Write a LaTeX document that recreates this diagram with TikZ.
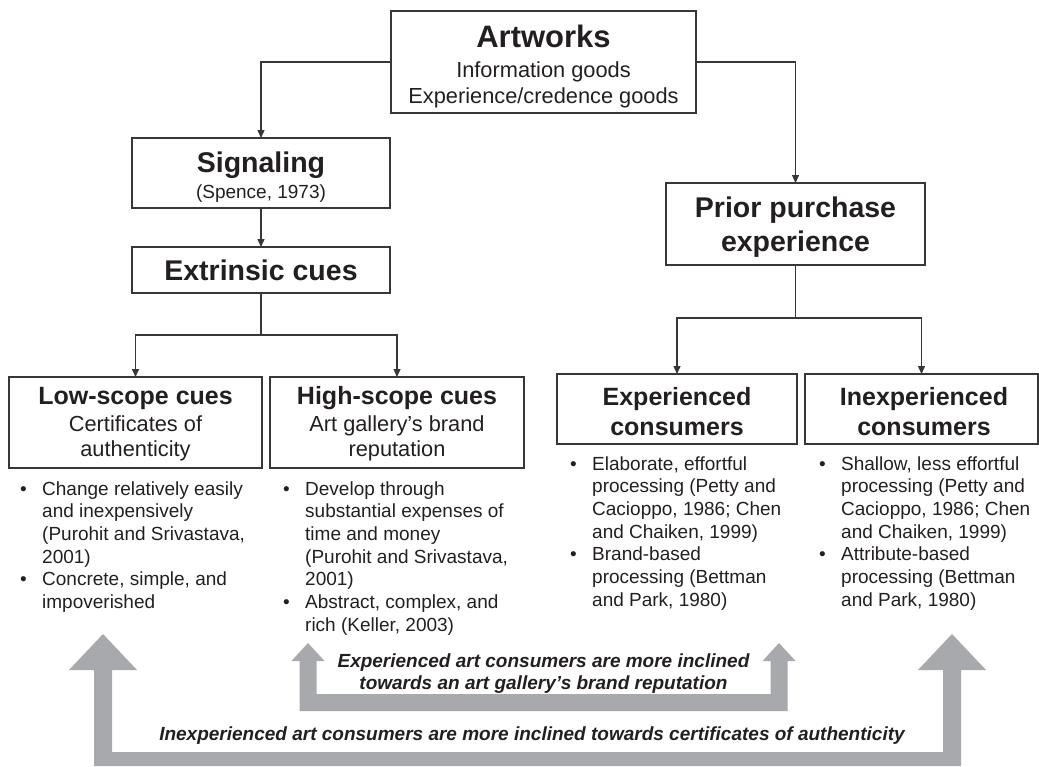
\documentclass[tikz,border=0pt]{standalone}
\usepackage{fontspec}
\setmainfont{Liberation Sans}
\usetikzlibrary{arrows.meta}
\definecolor{txt}{RGB}{35,31,32}
\definecolor{edge}{RGB}{55,55,55}
\definecolor{bigarrow}{RGB}{167,169,172}
\newcommand{\blt}{\makebox[22pt][l]{\textbullet}}
\newcommand{\bsp}{\hspace*{22pt}}
\begin{document}
\begin{tikzpicture}[x=1pt,y=-1pt,
  box/.style={draw=edge, line width=1.5pt, inner sep=0pt, outer sep=0pt},
  conn/.style={draw=edge, line width=1.4pt},
  arr/.style={conn, -{Triangle[width=7pt,length=8pt]}},
  bigttl/.style={anchor=base, text=txt, inner sep=0pt, font=\fontsize{31}{34}\selectfont\bfseries},
  ttl/.style={anchor=base, text=txt, inner sep=0pt, font=\fontsize{28.5}{32}\selectfont\bfseries},
  lttl/.style={anchor=base, text=txt, inner sep=0pt, font=\fontsize{25}{28}\selectfont\bfseries},
  sub/.style={anchor=base, text=txt, inner sep=0pt, font=\fontsize{21.8}{26}\selectfont},
  cite/.style={anchor=base, text=txt, inner sep=0pt, font=\fontsize{19}{22}\selectfont},
  blist/.style={anchor=base west, text=txt, inner sep=0pt, font=\fontsize{19}{22.7}\selectfont},
  note/.style={anchor=base, text=txt, inner sep=0pt, font=\fontsize{19}{22}\selectfont\bfseries\itshape},
  bigshape/.style={fill=bigarrow, draw=none}
]
\useasboundingbox (0,0) rectangle (1039,766);

% ---- big grey arrows ----
\fill[bigshape] (94,766) -- (94,670) -- (69,670) -- (103,634) -- (137,670) -- (112,670)
  -- (112,752) -- (943,752) -- (943,670) -- (918,670) -- (952,634) -- (986,670)
  -- (961,670) -- (961,766) -- cycle;
\fill[bigshape] (299.5,711) -- (299.5,661) -- (291.5,661) -- (308,643) -- (324.5,661)
  -- (316.5,661) -- (316.5,694) -- (770.5,694) -- (770.5,661) -- (762.5,661)
  -- (779,643) -- (795.5,661) -- (787.5,661) -- (787.5,711) -- cycle;

% ---- boxes ----
\node[box, minimum width=305, minimum height=102] (art) at (543.5,62) {};
\node[box, minimum width=258, minimum height=70] (sig) at (261,173) {};
\node[box, minimum width=258, minimum height=46] (ext) at (261,270) {};
\node[box, minimum width=259, minimum height=82] (prior) at (795.5,224) {};
\node[box, minimum width=253, minimum height=91] (low) at (135.5,422.5) {};
\node[box, minimum width=254, minimum height=91] (high) at (397,422.5) {};
\node[box, minimum width=240, minimum height=70] (exp) at (677,409) {};
\node[box, minimum width=233, minimum height=70] (inexp) at (921.5,409) {};

% ---- box texts ----
\node[bigttl] (artT) at (543.5,47) {Artworks};
\node[sub] (artS1) at (543.5,77) {Information goods};
\node[sub] (artS2) at (543.5,103) {Experience/credence goods};
\node[ttl] (sigT) at (261,172) {Signaling};
\node[cite] (sigS) at (261,198) {(Spence, 1973)};
\node[ttl] (extT) at (261,280) {Extrinsic cues};
\node[ttl] (priorT1) at (795.5,217) {Prior purchase};
\node[ttl] (priorT2) at (795.5,251) {experience};
\node[lttl] (lowT) at (135.5,404) {Low-scope cues};
\node[sub] (lowS1) at (135.5,431) {Certificates of};
\node[sub] (lowS2) at (135.5,456) {authenticity};
\node[lttl] (highT) at (397,404) {High-scope cues};
\node[sub] (highS1) at (397,431) {Art gallery's brand};
\node[sub] (highS2) at (397,456) {reputation};
\node[lttl] (expT1) at (677,405) {Experienced};
\node[lttl] (expT2) at (677,435) {consumers};
\node[lttl] (inexpT1) at (924,405) {Inexperienced};
\node[lttl] (inexpT2) at (924,435) {consumers};

% ---- connectors ----
\draw[arr] (art.west) -| (sig.north);
\draw[arr] (art.east) -| (prior.north);
\draw[arr] (sig.south) -- (ext.north);
\coordinate (j1) at (261,335);
\draw[conn] (ext.south) -- (j1);
\draw[arr] (j1) -| (low.north);
\draw[arr] (j1) -| (high.north);
\coordinate (j2) at (795.5,318);
\draw[conn] (prior.south) -- (j2);
\draw[arr] (j2) -| (exp.north);
\draw[arr] (j2) -| (inexp.north);

% ---- bullet lists ----
\node[blist] (lowL) at (20,495) {\begin{tabular}[t]{@{}l@{}}
\blt Change relatively easily\\
\bsp and inexpensively\\
\bsp (Purohit and Srivastava,\\
\bsp 2001)\\
\blt Concrete, simple, and\\
\bsp impoverished
\end{tabular}};
\node[blist] (highL) at (283,495) {\begin{tabular}[t]{@{}l@{}}
\blt Develop through\\
\bsp substantial expenses of\\
\bsp time and money\\
\bsp (Purohit and Srivastava,\\
\bsp 2001)\\
\blt Abstract, complex, and\\
\bsp rich (Keller, 2003)
\end{tabular}};
\node[blist] (expL) at (570,470) {\begin{tabular}[t]{@{}l@{}}
\blt Elaborate, effortful\\
\bsp processing (Petty and\\
\bsp Cacioppo, 1986; Chen\\
\bsp and Chaiken, 1999)\\
\blt Brand-based\\
\bsp processing (Bettman\\
\bsp and Park, 1980)
\end{tabular}};
\node[blist] (inexpL) at (819,470) {\begin{tabular}[t]{@{}l@{}}
\blt Shallow, less effortful\\
\bsp processing (Petty and\\
\bsp Cacioppo, 1986; Chen\\
\bsp and Chaiken, 1999)\\
\blt Attribute-based\\
\bsp processing (Bettman\\
\bsp and Park, 1980)
\end{tabular}};

% ---- arrow captions ----
\node[note] (n1) at (543.5,667) {Experienced art consumers are more inclined};
\node[note] (n2) at (543.5,689) {towards an art gallery’s brand reputation};
\node[note] (n3) at (532,740) {Inexperienced art consumers are more inclined towards certificates of authenticity};
\end{tikzpicture}
\end{document}
